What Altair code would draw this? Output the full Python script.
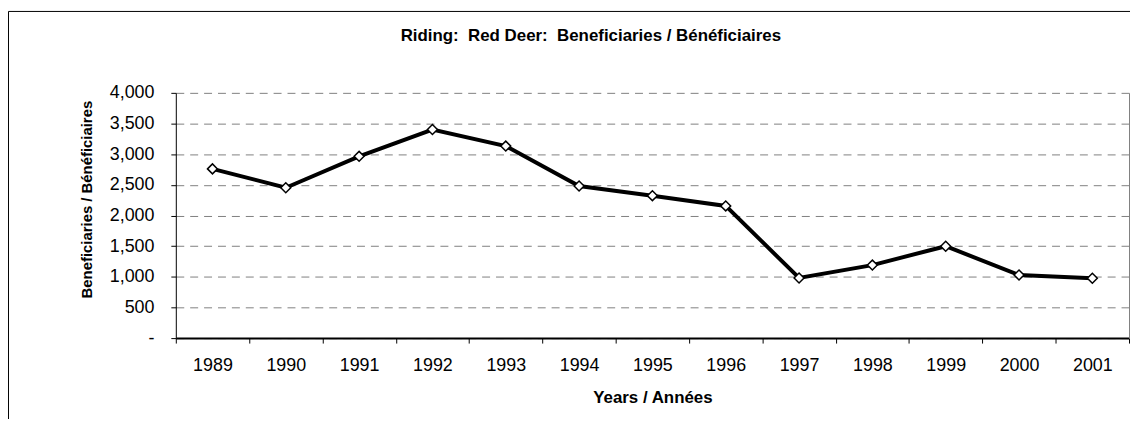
import altair as alt
import pandas as pd

years = ["1989", "1990", "1991", "1992", "1993", "1994", "1995",
         "1996", "1997", "1998", "1999", "2000", "2001"]
beneficiaries = [2760, 2453, 2965, 3402, 3132, 2480, 2323, 2156, 981, 1191, 1499, 1030, 976]
y_ticks = [0, 500, 1000, 1500, 2000, 2500, 3000, 3500, 4000]

df = pd.DataFrame({"year": years, "value": beneficiaries})

BOLD = "Liberation Sans, Arial, sans-serif"
REG = "Liberation Sans, Arial, sans-serif"

x_scale = alt.Scale(type="band", domain=years, paddingInner=0, paddingOuter=0)
y_scale = alt.Scale(domain=[0, 4000], nice=False, zero=True)

x_enc = alt.X(
    "year:O", sort=years, scale=x_scale,
    axis=alt.Axis(
        title="Years / Années", tickBand="extent", labelAngle=0,
        labelFont=REG, labelFontSize=18, labelColor="black", labelPadding=14,
        tickSize=5, tickColor="black", domainColor="black", domainWidth=2,
        grid=False, titleFont=BOLD, titleFontSize=17, titleFontWeight="bold",
        titleColor="black", titleX=480, titleY=65, titleBaseline="alphabetic",
        titleAlign="center", labelOverlap=False,
    ),
)

y_enc = alt.Y(
    "value:Q", scale=y_scale,
    axis=alt.Axis(
        values=y_ticks,
        labelExpr="datum.value == 0 ? '-\u2007\u2007' : format(datum.value, ',')",
        labelFont=REG, labelFontSize=18, labelColor="black", labelPadding=17,
        labelOverlap=False, labelFlush=False,
        tickSize=5, tickColor="black", domainColor="black", domainWidth=1,
        grid=True, gridColor="#808080", gridDash=[8, 6], gridWidth=1,
        title="Beneficiaries / Bénéficiaires", titleFont=BOLD, titleFontSize=15,
        titleFontWeight="bold", titleColor="black", titleAngle=270,
        titleX=-90, titleY=107, titleBaseline="middle", titleAlign="center",
    ),
)

y_right = alt.Y(
    "value:Q", scale=y_scale,
    axis=alt.Axis(orient="right", labels=False, ticks=False, grid=False,
                  domainColor="#808080", domainWidth=1, title=None),
)

base = alt.Chart(df)

line = base.mark_line(color="black", strokeWidth=4).encode(x=x_enc, y=y_enc)
points = base.mark_point(
    shape="diamond", filled=True, fill="white", stroke="black",
    strokeWidth=1.5, size=100, opacity=1
).encode(x=x_enc, y=y_right)

frame_data = alt.Data(values=[{"f": 1}])
frame_top = alt.Chart(frame_data).mark_rule(color="black", strokeWidth=1).encode(
    x=alt.value(-168.5), x2=alt.value(961), y=alt.value(-82)
)
frame_left = alt.Chart(frame_data).mark_rule(color="black", strokeWidth=1).encode(
    x=alt.value(-168.5), y=alt.value(-82), y2=alt.value(400)
)

chart = (
    alt.layer(line, points, frame_top, frame_left)
    .resolve_axis(y="independent")
    .properties(
        width=960, height=247,
        autosize=alt.AutoSizeParams(type="none"),
        padding={"left": 169, "top": 84, "right": 1, "bottom": 80},
        background="white",
        title=alt.Title(
            text="Riding:\u00a0 Red Deer:\u00a0 Beneficiaries / Bénéficiaires",
            font=BOLD, fontSize=17, fontWeight="bold", color="black",
            anchor="middle", dx=-62, offset=-47, baseline="alphabetic",
        ),
    )
    .configure_view(stroke=None)
)

chart.save("out.html", embed_options={"renderer": "svg", "actions": False})
